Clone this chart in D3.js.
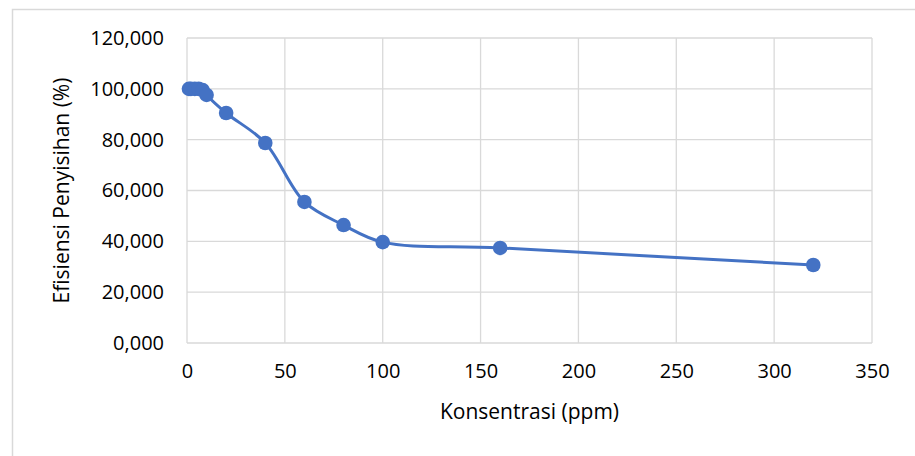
<!DOCTYPE html>
<html>
<head>
<meta charset="utf-8">
<script src="https://cdn.jsdelivr.net/npm/d3@7"></script>
<style>
  body { margin: 0; background: #fff; }
  text { font-family: "Open Sans", sans-serif; fill: #000; }
</style>
</head>
<body>
<script>
const konsentrasi = [1, 2, 4, 6, 8, 10, 20, 40, 60, 80, 100, 160, 320];
const efisiensi = [100000, 100000, 100000, 100000, 99500, 97600, 90500, 78700, 55500, 46400, 39700, 37400, 30700];
const xTicks = [0, 50, 100, 150, 200, 250, 300, 350];
const yTicks = [0, 20000, 40000, 60000, 80000, 100000, 120000];

const w = 915, h = 456;
const padL = 187, padR = 872, padT = 38, padB = 343;

const data = konsentrasi.map((k, i) => ({x: k, y: efisiensi[i]}));

const svg = d3.select("body").append("svg")
  .attr("width", w)
  .attr("height", h);

// outer chart border
svg.append("rect")
  .attr("x", 12.5).attr("y", 9.5)
  .attr("width", 940).attr("height", 480)
  .attr("fill", "none")
  .attr("stroke", "#d9d9d9")
  .attr("stroke-width", 1.5);

const xScale = d3.scaleLinear().domain([0, 350]).range([padL, padR]);
const yScale = d3.scaleLinear().domain([0, 120000]).range([padB, padT]);

// Excel style labels, e.g. 100,000
const yFmt = d => (d / 1000) + ",000";

// gridlines
svg.append("g")
  .selectAll("line")
  .data(yTicks)
  .enter()
  .append("line")
  .attr("x1", padL).attr("x2", padR)
  .attr("y1", d => yScale(d)).attr("y2", d => yScale(d))
  .attr("stroke", "#d9d9d9")
  .attr("stroke-width", 1.3);

svg.append("g")
  .selectAll("line")
  .data(xTicks)
  .enter()
  .append("line")
  .attr("x1", d => xScale(d)).attr("x2", d => xScale(d))
  .attr("y1", padT).attr("y2", padB)
  .attr("stroke", "#d9d9d9")
  .attr("stroke-width", 1.3);

// axes (labels only)
const xAxis = d3.axisBottom(xScale).tickValues(xTicks).tickSize(0).tickPadding(21);
const gx = svg.append("g")
  .attr("transform", "translate(0," + padB + ")")
  .call(xAxis);
gx.select(".domain").remove();
gx.selectAll("text").style("font-size", "20px").attr("fill", "#111");

const yAxis = d3.axisLeft(yScale).tickValues(yTicks).tickSize(0).tickPadding(23)
  .tickFormat(yFmt);
const gy = svg.append("g")
  .attr("transform", "translate(" + padL + ",0)")
  .call(yAxis);
gy.select(".domain").remove();
gy.selectAll("text").style("font-size", "20px").attr("fill", "#111");

// line
const line = d3.line()
  .x(d => xScale(d.x))
  .y(d => yScale(d.y))
  .curve(d3.curveCatmullRom.alpha(0.5));

svg.append("path")
  .datum(data)
  .attr("fill", "none")
  .attr("stroke", "#4472c4")
  .attr("stroke-width", 3)
  .attr("d", line);

svg.selectAll("circle")
  .data(data)
  .enter()
  .append("circle")
  .attr("cx", d => xScale(d.x))
  .attr("cy", d => yScale(d.y))
  .attr("r", 7.3)
  .attr("fill", "#4472c4");

// axis titles
svg.append("text")
  .attr("x", (padL + padR) / 2)
  .attr("y", 419)
  .attr("text-anchor", "middle")
  .style("font-size", "21px")
  .attr("fill", "#111")
  .text("Konsentrasi (ppm)");

svg.append("text")
  .attr("transform", "translate(69," + ((padT + padB) / 2) + ") rotate(-90)")
  .attr("text-anchor", "middle")
  .style("font-size", "21px")
  .attr("fill", "#111")
  .text("Efisiensi Penyisihan (%)");
</script>
</body>
</html>
